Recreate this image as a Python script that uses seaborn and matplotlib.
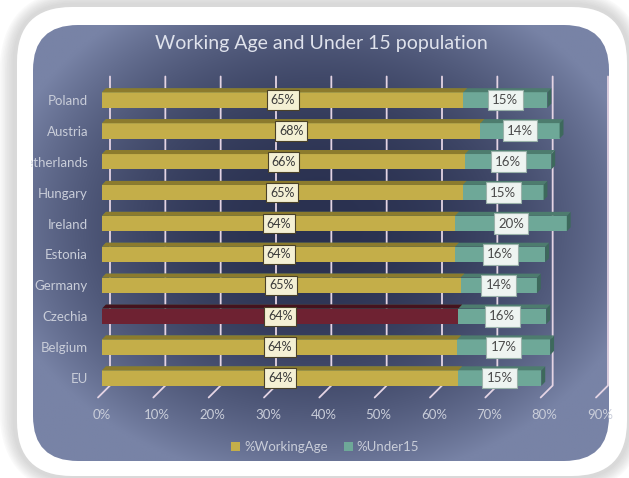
import numpy as np
import pandas as pd
import matplotlib
matplotlib.use("Agg")
import matplotlib.pyplot as plt
import matplotlib.colors as mcolors
from matplotlib import transforms
from matplotlib.patches import FancyBboxPatch, Polygon, Patch
from matplotlib.lines import Line2D
import seaborn as sns

# data (percent of population)
countries = ["Poland", "Austria", "Netherlands", "Hungary", "Ireland",
             "Estonia", "Germany", "Czechia", "Belgium", "EU"]
working_age = [65.3, 68.4, 65.6, 65.2, 63.8, 63.8, 64.8, 64.4, 64.2, 64.4]
under15 = [15.2, 14.3, 15.6, 14.6, 20.2, 16.3, 13.8, 15.9, 16.8, 15.0]
highlight = "Czechia"
xticks = list(range(0, 100, 10))

df = pd.DataFrame({"country": countries, "working": working_age, "under15": under15})
df["total"] = df["working"] + df["under15"]

sns.set_style("white")
plt.rcParams["font.family"] = ["Lato", "DejaVu Sans"]

yellow, yellow_top = "#c4ae49", "#8c7b2d"
teal, teal_top, teal_side = "#6ea898", "#4d7c6e", "#3d695c"
maroon, maroon_top = "#6e2232", "#45121d"
light_text = "#c9cdd9"

W, H = 629, 478
fig = plt.figure(figsize=(W / 100, H / 100), dpi=100)
fig.patch.set_facecolor("white")

# ---- background: shadow, white frame, dark gradient panel ----
bg = fig.add_axes([0, 0, 1, 1], zorder=-5)
bg.axis("off")
for k in range(8):
    g = 8 + k * 3
    bg.add_patch(FancyBboxPatch((17 - g * 0.6, 7 - g * 0.6), 610 + g * 1.2, 469 + g * 1.2,
                                boxstyle=f"round,pad=0,rounding_size={55 + g}",
                                fc="#9a9a9a", ec="none", alpha=0.05, zorder=0))
bg.add_patch(FancyBboxPatch((17, 7), 610, 469, boxstyle="round,pad=0,rounding_size=55",
                            fc="white", ec="none", zorder=1))
xs = np.linspace(33, 609, 300)
ys = np.linspace(25, 461, 220)
X, Y = np.meshgrid(xs, ys)
r = np.sqrt(((X - 320) / 330) ** 2 + ((Y - 225) / 260) ** 2)
t = np.clip(r, 0, 1) ** 2.2
dark = np.array(mcolors.to_rgb("#2a3150"))
light = np.array(mcolors.to_rgb("#7883a6"))
img = dark + (light - dark) * t[..., None]
im = bg.imshow(img, extent=(33, 609, 461, 25), interpolation="bilinear", aspect="auto", zorder=2)
panel = FancyBboxPatch((33, 25), 576, 436, boxstyle="round,pad=0,rounding_size=45",
                       fc="none", ec="none", transform=bg.transData)
bg.add_patch(panel)
im.set_clip_path(panel)
bg.set_xlim(0, W)
bg.set_ylim(H, 0)

# ---- main chart ----
ax = fig.add_axes([102 / W, 1 - 393.5 / H, 498 / W, 309 / H])
ax.set_facecolor("none")

sns.barplot(data=df, x="total", y="country", hue="country", palette=[teal] * len(countries),
            legend=False, width=0.5, saturation=1, linewidth=0, ax=ax, zorder=2)
work_colors = [maroon if c == highlight else yellow for c in countries]
sns.barplot(data=df, x="working", y="country", hue="country", palette=work_colors,
            legend=False, width=0.5, saturation=1, linewidth=0, ax=ax, zorder=3)

ax.set_xlim(0, 90)
ax.set_ylim(len(countries) - 0.5, -0.5)
ax.set_xlabel("")
ax.set_ylabel("")
for s in ax.spines.values():
    s.set_visible(False)

# 3-D look: top faces and end faces of the bars
dx, dy = 0.7, 0.13
n = len(countries)
for j, p in enumerate(ax.patches):
    x0, y0, w, h = p.get_x(), p.get_y(), p.get_width(), p.get_height()
    if j < n:
        top = teal_top
        ax.add_patch(Polygon([(x0 + w, y0), (x0 + w + dx, y0 - dy), (x0 + w + dx, y0 + h - dy),
                              (x0 + w, y0 + h)], closed=True, fc=teal_side, ec="none", zorder=2))
    else:
        top = maroon_top if countries[j - n] == highlight else yellow_top
    ax.add_patch(Polygon([(x0, y0), (x0 + w, y0), (x0 + w + dx, y0 - dy), (x0 + dx, y0 - dy)],
                         closed=True, fc=top, ec="none", zorder=3))

# value labels
for i, (wa, u) in enumerate(zip(working_age, under15)):
    ax.text(wa / 2, i, f"{wa:.0f}%", ha="center", va="center", fontsize=9, color="#3a3a3a",
            bbox=dict(boxstyle="square,pad=0.3", fc="#f4f0d4", ec="#4a4128", lw=0.8), zorder=6)
    ax.text(wa + u / 2, i, f"{u:.0f}%", ha="center", va="center", fontsize=9.5, color="#4a4a4a",
            bbox=dict(boxstyle="square,pad=0.33", fc="#eef4f1", ec="#9ab2aa", lw=0.8), zorder=6)

ax.set_xticks(xticks)
ax.set_xticklabels([f"{v}%" for v in xticks])
ax.tick_params(axis="x", length=0, pad=11, labelcolor=light_text, labelsize=9.5)
ax.tick_params(axis="y", length=0, pad=10, labelcolor=light_text, labelsize=9.5)
clip_box = transforms.TransformedBbox(transforms.Bbox([[31 / W, 0], [1, 1]]), fig.transFigure)
for lab in ax.get_yticklabels():
    lab.set_clip_box(clip_box)
    lab.set_clip_on(True)

# gridlines on the back wall plus floor ticks
x_tr = ax.get_xaxis_transform()
for v in xticks:
    xb, yb = x_tr.transform((v, 0))
    _, yt = x_tr.transform((v, 1))
    fig.add_artist(Line2D([xb + 8, xb + 8, xb - 4], [yt + 8, yb + 8, yb - 4],
                          transform=transforms.IdentityTransform(), color="#e4d4e4",
                          lw=1.3, zorder=-1))

fig.text(0.511, 1 - 44 / H, "Working Age and Under 15 population", ha="center", va="center",
         fontsize=14, color="#dfe2ec")

handles = [Patch(fc=yellow, ec="none", label="%WorkingAge"),
           Patch(fc=teal, ec="none", label="%Under15")]
fig.legend(handles=handles, loc="center", bbox_to_anchor=(0.517, 1 - 447 / H), ncol=2,
           frameon=False, fontsize=9.5, labelcolor=light_text, handlelength=0.7,
           handleheight=0.7, handletextpad=0.3, columnspacing=1.2)

fig.savefig("out.png", dpi=100)
